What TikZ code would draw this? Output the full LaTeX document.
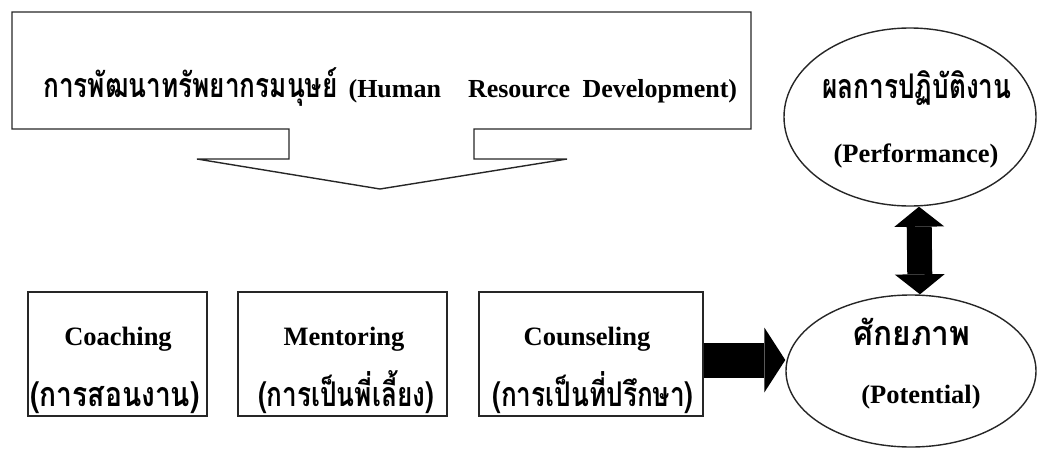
\documentclass[tikz,border=0pt]{standalone}
\usepackage{fontspec}
\setmainfont{Liberation Serif}
\newfontfamily\thai[Script=Thai,FakeStretch=0.77]{Loma}
\newfontfamily\thaiw[Script=Thai,FakeStretch=0.83]{Loma}
\newfontfamily\thaiww[Script=Thai,FakeStretch=0.93]{Loma}
\usetikzlibrary{shapes.geometric,arrows.meta}

\tikzset{
  tipR/.tip={Triangle[length=21pt,width=65pt,line width=0pt]},
  tipV/.tip={Triangle[length=20pt,width=50pt,line width=0pt]}
}

\begin{document}
\begin{tikzpicture}[x=1pt,y=-1pt,
  outline/.style={draw=black!85, line width=1.4pt},
  box/.style={outline, rectangle, inner sep=0pt},
  oval/.style={outline, ellipse, inner sep=0pt},
  en/.style={font=\fontsize{26.5}{30}\selectfont\bfseries, inner sep=0pt, anchor=base},
  th/.style={font=\thai\fontsize{34}{38}\selectfont\bfseries, inner sep=0pt, anchor=base},
  blockarrow/.style={draw=black, line width=#1}]
\useasboundingbox (0,0) rectangle (1037,450);

% heading box with its downward callout arrow
\draw[outline, line join=miter]
  (12,12) -- (751,12) -- (751,129) -- (474,129) -- (474,159) -- (567,159)
  -- (380,189) -- (197,159) -- (289,159) -- (289,129) -- (12,129) -- cycle;
\node[anchor=base west, inner sep=0pt, font=\fontsize{26}{30}\selectfont\bfseries] (hrd) at (43,97)
  {{\thai\fontsize{34}{38}\selectfont\bfseries การพัฒนาทรัพยากรมนุษย์}\hspace{11pt}(Human\hspace{27pt}Resource\hspace{12.5pt}Development)};

% the three development methods
\node[box, minimum width=179pt, minimum height=124pt] (coach) at (117.5,354) {};
\node[box, minimum width=209pt, minimum height=124pt] (mentor) at (342.5,354) {};
\node[box, minimum width=224pt, minimum height=124pt] (counsel) at (591,354) {};

\node[en] (coach-en) at (118,345) {Coaching};
\node[th, font=\thaiw\fontsize{34}{38}\selectfont\bfseries] (coach-th) at (115,406) {(การสอนงาน)};
\node[en] (mentor-en) at (344,345) {Mentoring};
\node[th] (mentor-th) at (346,406) {(การเป็นพี่เลี้ยง)};
\node[en] (counsel-en) at (587,345) {Counseling};
\node[th] (counsel-th) at (593,406) {(การเป็นที่ปรึกษา)};

% outcomes
\node[oval, minimum width=252pt, minimum height=178pt] (perf) at (910,117) {};
\node[oval, minimum width=250pt, minimum height=152pt] (pot) at (911,371) {};

\node[th] (perf-th) at (917,98) {ผลการปฏิบัติงาน};
\node[en] (perf-en) at (916,162) {(Performance)};
\node[th, font=\thaiww\fontsize{34}{38}\selectfont\bfseries] (pot-th) at (912,345) {ศักยภาพ};
\node[en] (pot-en) at (921,403) {(Potential)};

% connectors
\draw[blockarrow=35pt, -{tipR}] ([yshift=-6pt]counsel.east) -- ([yshift=11pt]pot.west);
\draw[blockarrow=25pt, {tipV}-{tipV}] ([xshift=9pt]perf.south) -- ([xshift=9pt]pot.north);
\end{tikzpicture}
\end{document}
